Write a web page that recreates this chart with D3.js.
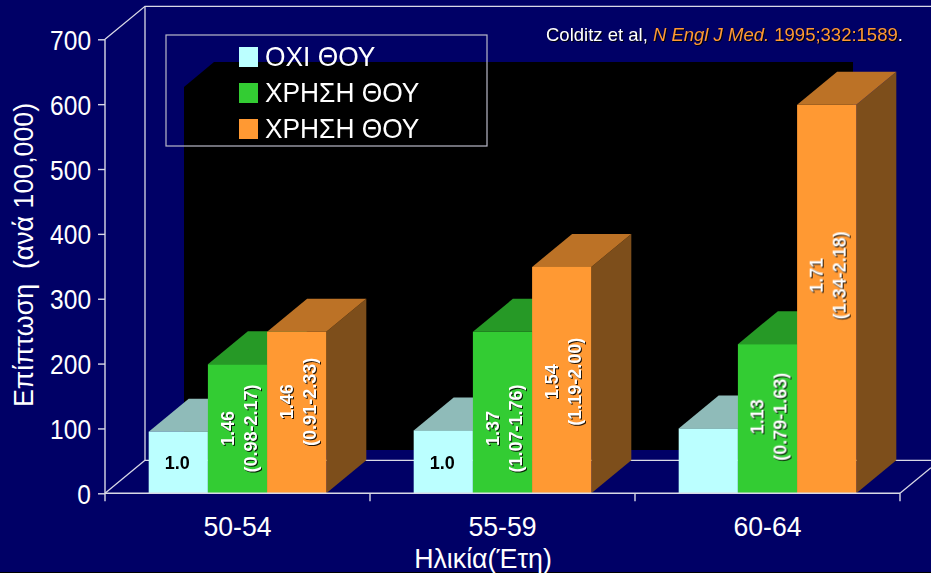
<!DOCTYPE html>
<html>
<head>
<meta charset="utf-8">
<script src="https://cdn.jsdelivr.net/npm/d3@7"></script>
<style>
  html, body { margin: 0; padding: 0; background: #000066; overflow: hidden; }
  text { font-family: "Liberation Sans", Arial, sans-serif; fill: #fff; }
  .shadow { filter: drop-shadow(1px 1px 0 rgba(0,0,0,.85)); }
  .axis path { display: none; }
  .axis line { stroke: #d9d9e6; stroke-width: 1.4; }
  .axis text { font-size: 28px; }
</style>
</head>
<body>
<svg id="chart" width="931" height="573"></svg>
<script>
(function () {
  'use strict';

  /* Données */
  var ageGroups   = ['50-54', '55-59', '60-64'];
  var seriesNames = ['ΟΧΙ ΘΟΥ', 'ΧΡΗΣΗ ΘΟΥ', 'ΧΡΗΣΗ ΘΟΥ'];
  var noHormone   = [95, 97, 100];
  var useA        = [199, 249, 230];
  var useB        = [249, 349, 599];
  var yTicks      = [0, 100, 200, 300, 400, 500, 600, 700];

  var ratioA = ['1.46', '1.37', '1.13'];
  var rangeA = ['(0.98-2.17)', '(1.07-1.76)', '(0.79-1.63)'];
  var ratioB = ['1.46', '1.54', '1.71'];
  var rangeB = ['(0.91-2.33)', '(1.19-2.00)', '(1.34-2.18)'];
  var baseLabels = ['1.0', '1.0', null];

  /* hauteur (en unités de l'axe) où les libellés verticaux sont centrés */
  var labelLevelA = [100, 100, 118];
  var labelLevelB = [141, 172, 336];

  /* Couleurs : face, dessus, côté */
  var COLORS = [
    { front: '#bbffff', top: '#8fbbb9', side: '#6f9391' },
    { front: '#33cc33', top: '#269926', side: '#1f7a1f' },
    { front: '#ff9933', top: '#bc7226', side: '#7d4e1b' }
  ];

  /* Géométrie de la pseudo 3D */
  var DX = 40, DY = 33;
  var LEFT = 105, RIGHT = 900, BOTTOM = 493.3, TOP = 39.3;

  var svg = d3.select('#chart');
  var y   = d3.scaleLinear().domain([0, 700]).range([BOTTOM, TOP]);
  var x0  = d3.scaleBand().domain(ageGroups).range([LEFT, RIGHT]);
  var x1  = d3.scaleBand().domain(d3.range(3)).range([0, x0.bandwidth()])
              .paddingInner(0).paddingOuter(0.738);
  var rows = [noHormone, useA, useB];

  /* La police d'origine est plus étroite : on resserre le texte */
  function condense(sel, k) {
    sel.each(function () {
      var len = this.getComputedTextLength();
      d3.select(this)
        .attr('textLength', len * k)
        .attr('lengthAdjust', 'spacingAndGlyphs');
    });
  }

  /* Fond */
  svg.append('rect').attr('width', 931).attr('height', 573).attr('fill', '#000066');
  svg.append('rect').attr('y', 572).attr('width', 931).attr('height', 1).attr('fill', '#000');

  /* Panneau noir du fond */
  svg.append('path')
    .attr('d', 'M184,450V87L214,62H853V450Z')
    .attr('fill', '#000');

  /* Parois */
  var wall = svg.append('g').attr('fill', 'none').attr('stroke', '#d9d9e6').attr('stroke-width', 1.3);
  wall.append('path').attr('d', d3.line()([
    [LEFT, y(700)], [LEFT + DX, y(700) - DY], [931, y(700) - DY]
  ]));
  wall.append('path').attr('d', d3.line()([
    [LEFT + DX, y(700) - DY], [LEFT + DX, y(0) - DY], [931, y(0) - DY]
  ]));
  wall.append('path').attr('d', d3.line()([[LEFT, y(0)], [LEFT + DX, y(0) - DY]]));
  wall.append('path').attr('d', d3.line()([[RIGHT, y(0)], [931, y(0) - 25.6]]));

  /* Barres */
  var bars = svg.append('g');
  ageGroups.forEach(function (age, g) {
    rows.forEach(function (row, s) {
      var bx = x0(age) + x1(s);
      var w  = x1.bandwidth();
      var ty = y(row[g]);
      var c  = COLORS[s];

      bars.append('path')
        .attr('d', d3.line()([[bx + w, ty], [bx + w + DX, ty - DY], [bx + w + DX, BOTTOM - DY], [bx + w, BOTTOM]]))
        .attr('fill', c.side);
      bars.append('path')
        .attr('d', d3.line()([[bx, ty], [bx + DX, ty - DY], [bx + w + DX, ty - DY], [bx + w, ty]]))
        .attr('fill', c.top);
      bars.append('rect')
        .attr('x', bx).attr('y', ty)
        .attr('width', w).attr('height', BOTTOM - ty)
        .attr('fill', c.front);
    });
  });

  /* Axes */
  var yAxis = svg.append('g')
    .attr('class', 'axis')
    .attr('transform', 'translate(' + LEFT + ',0)')
    .call(d3.axisLeft(y).tickValues(yTicks).tickSize(7).tickPadding(7).tickFormat(d3.format('d')));
  yAxis.append('line').attr('y1', BOTTOM).attr('y2', TOP);
  yAxis.selectAll('.tick text').attr('dy', '0.36em').call(condense, 0.875);

  var xAxis = svg.append('g')
    .attr('class', 'axis')
    .attr('transform', 'translate(0,' + BOTTOM + ')')
    .call(d3.axisBottom(x0).tickSize(0).tickPadding(23));
  xAxis.append('line').attr('x1', LEFT).attr('x2', RIGHT);
  xAxis.selectAll('.tick text').call(condense, 0.95);
  xAxis.selectAll('.edge')
    .data(ageGroups.concat([null]))
    .enter().append('line')
    .attr('class', 'edge')
    .attr('x1', function (d) { return d === null ? RIGHT : x0(d); })
    .attr('x2', function (d) { return d === null ? RIGHT : x0(d); })
    .attr('y2', 8);

  /* Titres d'axes */
  svg.append('text')
    .attr('transform', 'translate(33,255) rotate(-90)')
    .attr('text-anchor', 'middle')
    .attr('font-size', 28)
    .attr('xml:space', 'preserve')
    .text('Επίπτωση  (ανά 100,000)')
    .call(condense, 0.955);
  svg.append('text')
    .attr('x', 483).attr('y', 568)
    .attr('text-anchor', 'middle')
    .attr('font-size', 28)
    .text('Ηλικία(Έτη)')
    .call(condense, 0.955);

  /* Libellés dans les barres */
  var labels = svg.append('g').attr('class', 'shadow');
  function verticalLabel(s, g, level, first, second) {
    var cx = x0(ageGroups[g]) + x1(s) + x1.bandwidth() / 2;
    var t = labels.append('text')
      .attr('transform', 'translate(' + cx + ',' + y(level) + ') rotate(-90)')
      .attr('text-anchor', 'middle')
      .attr('font-size', 18)
      .attr('font-weight', 'bold');
    t.append('tspan').attr('x', 0).attr('y', -4).text(first);
    t.append('tspan').attr('x', 0).attr('y', 19).text(second);
  }
  ageGroups.forEach(function (age, g) {
    verticalLabel(1, g, labelLevelA[g], ratioA[g], rangeA[g]);
    verticalLabel(2, g, labelLevelB[g], ratioB[g], rangeB[g]);
    if (baseLabels[g]) {
      svg.append('text')
        .attr('x', x0(age) + x1(0) + x1.bandwidth() / 2 - 1)
        .attr('y', 469)
        .attr('text-anchor', 'middle')
        .attr('font-size', 18)
        .attr('font-weight', 'bold')
        .style('fill', '#000')
        .text(baseLabels[g]);
    }
  });

  /* Légende */
  svg.append('rect')
    .attr('x', 166).attr('y', 35)
    .attr('width', 321).attr('height', 111)
    .attr('fill', 'none').attr('stroke', '#b9b9c8').attr('stroke-width', 1.2);
  var legend = svg.selectAll('.legend-item')
    .data(seriesNames)
    .enter().append('g')
    .attr('class', 'legend-item')
    .attr('transform', function (d, i) { return 'translate(239,' + (47 + i * 36) + ')'; });
  legend.append('rect')
    .attr('width', 19).attr('height', 20)
    .attr('fill', function (d, i) { return COLORS[i].front; });
  legend.append('text')
    .attr('x', 26).attr('y', 19)
    .attr('font-size', 28)
    .text(function (d) { return d; })
    .call(condense, 0.94);

  /* Référence */
  var cite = svg.append('text')
    .attr('class', 'shadow')
    .attr('x', 546).attr('y', 41)
    .attr('font-size', 18.5);
  cite.append('tspan').text('Colditz et al, ');
  cite.append('tspan').style('fill', '#ff9933').attr('font-style', 'italic').text('N Engl J Med.');
  cite.append('tspan').style('fill', '#ff9933').text(' 1995;332:1589');
  cite.append('tspan').text('.');
})();
</script>
</body>
</html>
